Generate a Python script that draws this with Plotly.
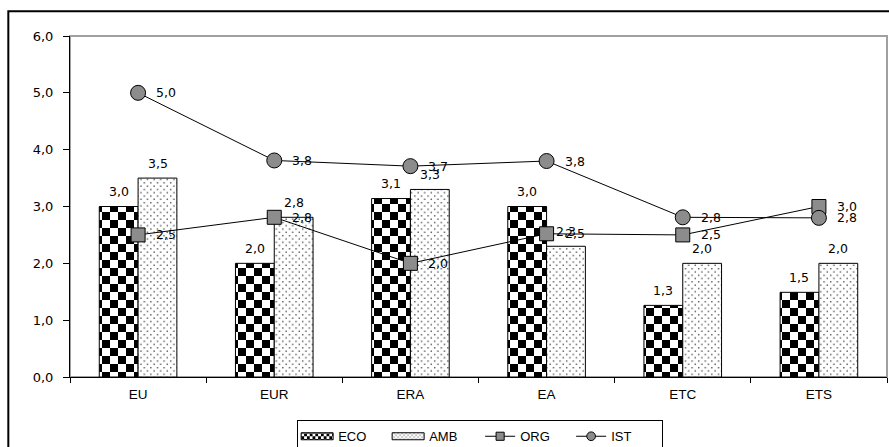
import plotly.graph_objects as go

# Categories and series values
categories = ["EU", "EUR", "ERA", "EA", "ETC", "ETS"]
eco = [3.0, 2.0, 3.14, 3.0, 1.26, 1.49]
amb = [3.5, 2.81, 3.3, 2.3, 2.0, 2.0]
org = [2.5, 2.81, 2.0, 2.52, 2.5, 3.0]
ist = [5.0, 3.81, 3.71, 3.8, 2.81, 2.8]
y_ticks = [0, 1, 2, 3, 4, 5, 6]

TEXT_FONT = "Liberation Sans, Arial, sans-serif"
NUM_FONT = "DejaVu Sans, Verdana, sans-serif"


def fmt(v):
    return f"{v:.1f}".replace(".", ",")


fig = go.Figure()

fig.add_trace(go.Bar(
    name="ECO", x=categories, y=eco, uid="eco",
    marker=dict(color="white", line=dict(color="black", width=1),
                pattern=dict(shape="x", size=16, solidity=0.5,
                             fgcolor="black", bgcolor="white")),
    hoverinfo="skip",
))
fig.add_trace(go.Bar(
    name="AMB", x=categories, y=amb, uid="amb",
    marker=dict(color="white", line=dict(color="black", width=1),
                pattern=dict(shape=".", size=6, solidity=0.1,
                             fgcolor="#555555", bgcolor="white")),
    hoverinfo="skip",
))
fig.add_trace(go.Scatter(
    name="ORG", x=categories, y=org, mode="lines+markers",
    line=dict(color="black", width=1),
    marker=dict(symbol="square", size=14, color="#8c8c8c",
                line=dict(color="black", width=1)),
    cliponaxis=False, hoverinfo="skip",
))
fig.add_trace(go.Scatter(
    name="IST", x=categories, y=ist, mode="lines+markers",
    line=dict(color="black", width=1),
    marker=dict(symbol="circle", size=15, color="#8c8c8c",
                line=dict(color="black", width=1)),
    cliponaxis=False, hoverinfo="skip",
))

label_font = dict(family=NUM_FONT, size=12.5, color="black")
annotations = []
# value labels centred above the two bars of each group
for series, shift in ((eco, -19.5), (amb, 19.5)):
    for c, v in zip(categories, series):
        annotations.append(dict(
            x=c, y=v, text=fmt(v), showarrow=False, xshift=shift, yshift=15,
            font=label_font,
        ))
# value labels to the right of the line markers
for series in (org, ist):
    for c, v in zip(categories, series):
        annotations.append(dict(
            x=c, y=v, text=fmt(v), showarrow=False, xanchor="left",
            xshift=16, font=label_font,
        ))

fig.update_layout(
    width=889, height=447,
    margin=dict(l=70, r=2, t=36, b=70, autoexpand=False),
    paper_bgcolor="white", plot_bgcolor="white",
    separators=",.",
    barmode="group", bargap=0.43, bargroupgap=0,
    font=dict(family=TEXT_FONT, size=12, color="black"),
    showlegend=True,
    legend=dict(
        orientation="h", x=0.278, xanchor="left", y=-0.127, yanchor="top",
        bordercolor="black", borderwidth=1, bgcolor="white",
        font=dict(family=TEXT_FONT, size=13, color="black"),
        traceorder="normal", itemsizing="trace", entrywidth=46,
        tracegroupgap=0,
    ),
    annotations=annotations,
    shapes=[
        # plot-area border (grey top and right edges)
        dict(type="rect", xref="paper", yref="paper", x0=0, x1=1, y0=0, y1=1,
             line=dict(color="#a0a0a0", width=2), layer="below"),
        # outer chart frame
        dict(type="rect", xref="paper", yref="paper",
             x0=-0.0755, x1=1.2, y0=-0.5, y1=1.0725,
             line=dict(color="black", width=2), layer="below"),
    ],
)

fig.update_xaxes(
    type="category", showgrid=False, showline=True, linecolor="black",
    linewidth=1, ticks="outside", ticklen=5, tickcolor="black",
    tickson="boundaries", ticklabelstandoff=5,
    tickfont=dict(family=TEXT_FONT, size=13.5, color="black"),
)
fig.update_yaxes(
    range=[0, 6], tickvals=y_ticks, tickformat=".1f", showgrid=False,
    zeroline=False, showline=True, linecolor="black", linewidth=1,
    ticks="outside", ticklen=6, tickcolor="black", ticklabelstandoff=7,
    tickfont=dict(family=NUM_FONT, size=13, color="black"),
)

# Checkerboard and staggered-dot textures for the bar fills, wide legend
# swatches for the bar series and smaller legend markers for the lines
post_js = """
var gd = document.getElementById('{plot_id}');
var NS = 'http://www.w3.org/2000/svg';
function mk(tag, attrs) {
  var e = document.createElementNS(NS, tag);
  for (var k in attrs) e.setAttribute(k, attrs[k]);
  return e;
}
function clear(p) { while (p.firstChild) p.removeChild(p.firstChild); }
function retexture() {
  document.querySelectorAll('pattern').forEach(function (p) {
    var id = p.id || '';
    var inLegend = id.indexOf('legend') >= 0;
    if (id.indexOf('eco') >= 0) {
      var c = inLegend ? 3.5 : 8;
      var w = 2 * c;
      clear(p);
      p.setAttribute('width', w); p.setAttribute('height', w);
      p.appendChild(mk('rect', {x: 0, y: 0, width: w, height: w, fill: '#ffffff'}));
      p.appendChild(mk('rect', {x: 0, y: 0, width: c, height: c, fill: '#000000'}));
      p.appendChild(mk('rect', {x: c, y: c, width: c, height: c, fill: '#000000'}));
    } else if (id.indexOf('amb') >= 0) {
      var s = inLegend ? 5 : 6.6;
      var h = s / 2;
      clear(p);
      p.setAttribute('width', s); p.setAttribute('height', s);
      p.appendChild(mk('rect', {x: 0, y: 0, width: s, height: s, fill: '#ffffff'}));
      p.appendChild(mk('rect', {x: h / 2 - 0.7, y: h / 2 - 0.7, width: 1.4, height: 1.4, fill: '#555555'}));
      p.appendChild(mk('rect', {x: h + h / 2 - 0.7, y: h + h / 2 - 0.7, width: 1.4, height: 1.4, fill: '#555555'}));
    }
  });
  gd.querySelectorAll('.legend .legendpoints path').forEach(function (el) {
    var f = (el.getAttribute('style') || '') + (el.getAttribute('fill') || '');
    if (f.indexOf('url(') >= 0) {
      el.setAttribute('d', 'M15,3.5H-17V-3.5H15Z');
    }
  });
  gd.querySelectorAll('.legend .legendpoints path.scatterpts').forEach(function (el) {
    if (!el.dataset.shrunk) {
      var t = el.getAttribute('transform') || '';
      el.setAttribute('transform', t + ' scale(0.58)');
      el.style.strokeWidth = '1.7px';
      el.dataset.shrunk = '1';
    }
  });
}
retexture();
gd.on('plotly_afterplot', retexture);
"""

fig.write_html("out.html", post_script=post_js)
